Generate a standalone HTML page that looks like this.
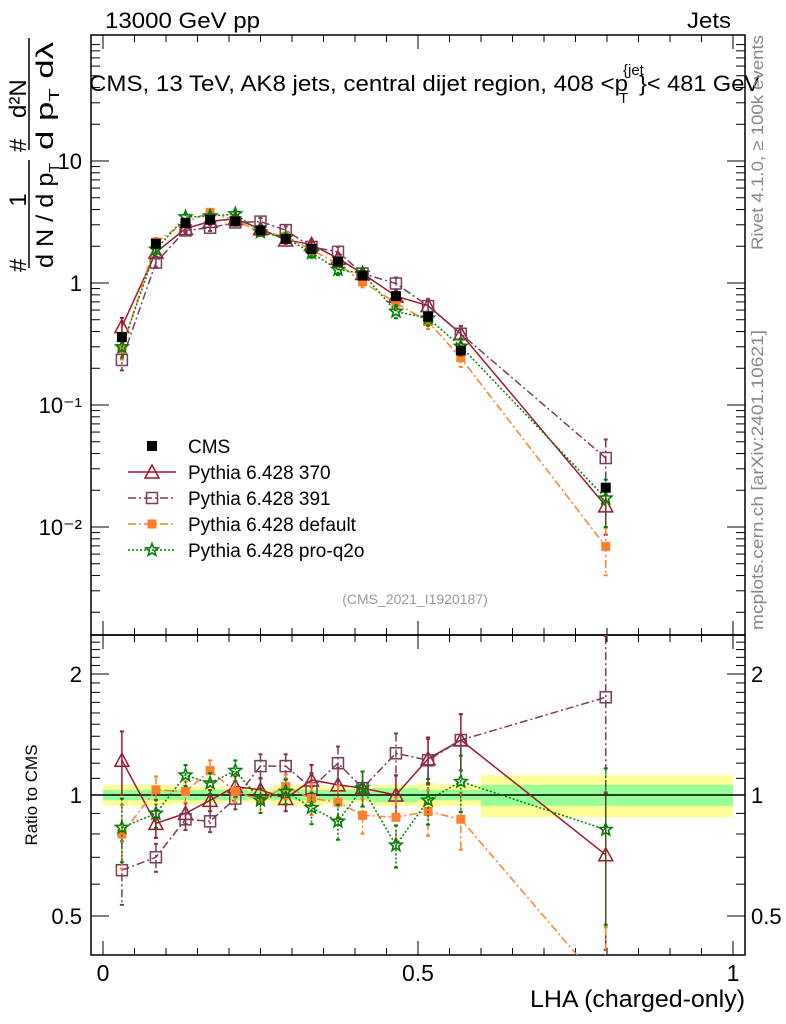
<!DOCTYPE html>
<html><head><meta charset="utf-8"><style>
html,body{margin:0;background:#fff;overflow:hidden;width:786px;height:1024px}
svg{display:block;font-family:"Liberation Sans",sans-serif}
</style></head><body>
<svg id="chart" width="786" height="1024" viewBox="0 0 786 1024" xmlns="http://www.w3.org/2000/svg">
<rect width="786" height="1024" fill="#fff"/>
<g id="bands"></g>
<g id="axes"></g>
<g id="series"></g>
<text x="105" y="28" font-size="22" textLength="155" lengthAdjust="spacingAndGlyphs">13000 GeV pp</text>
<text x="687" y="28" font-size="22" textLength="44" lengthAdjust="spacingAndGlyphs">Jets</text>
<g font-size="22">
<text x="89" y="91" textLength="539" lengthAdjust="spacingAndGlyphs">CMS, 13 TeV, AK8 jets, central dijet region, 408 &lt;p</text>
<text x="623" y="75" font-size="15">{jet</text>
<text x="619" y="103" font-size="15">T</text>
<text x="639" y="91" textLength="121" lengthAdjust="spacingAndGlyphs">}&lt; 481 GeV</text>
</g>
<text x="415" y="604" font-size="14" fill="#999" text-anchor="middle">(CMS_2021_I1920187)</text>
<text transform="translate(763,250) rotate(-90)" font-size="17" fill="#888" textLength="215" lengthAdjust="spacingAndGlyphs">Rivet 4.1.0, ≥ 100k events</text>
<text transform="translate(763,630) rotate(-90)" font-size="17" fill="#888" textLength="300" lengthAdjust="spacingAndGlyphs">mcplots.cern.ch [arXiv:2401.10621]</text>
<g font-size="24">
<text transform="translate(26,272) rotate(-90)">#</text>
<text transform="translate(26,200) rotate(-90)" text-anchor="middle">1</text>
<line x1="29" y1="160" x2="29" y2="268" stroke="#000" stroke-width="1.5"/>
<text transform="translate(53,268) rotate(-90)" textLength="105" lengthAdjust="spacingAndGlyphs">d N / d p<tspan font-size="15" dy="6">T</tspan></text>
<text transform="translate(26,152) rotate(-90)">#</text>
<text transform="translate(26,118) rotate(-90)">d²N</text>
<line x1="29" y1="38" x2="29" y2="150" stroke="#000" stroke-width="1.5"/>
<text transform="translate(53,150) rotate(-90)" textLength="108" lengthAdjust="spacingAndGlyphs">d p<tspan font-size="15" dy="6">T</tspan><tspan dy="-6"> dλ</tspan></text>
</g>
<text transform="translate(37,795) rotate(-90)" font-size="17" text-anchor="middle">Ratio to CMS</text>
<text x="530" y="1007" font-size="24" textLength="215" lengthAdjust="spacingAndGlyphs">LHA (charged-only)</text>
<g id="legend"></g>
</svg>
<script>
const xCenters=[0.030,0.084,0.131,0.170,0.210,0.250,0.290,0.331,0.373,0.412,0.465,0.516,0.568,0.798];
const xEdges=[0,0.06,0.11,0.15,0.19,0.23,0.27,0.31,0.35,0.39,0.43,0.50,0.53,0.60,1.0];
const cmsValues=[0.36,2.1,3.1,3.3,3.2,2.7,2.3,1.9,1.5,1.15,0.78,0.53,0.28,0.021];
const bandInner=[0.03,0.03,0.03,0.03,0.03,0.02,0.03,0.03,0.03,0.03,0.04,0.03,0.03,0.06];
const bandOuter=[0.06,0.06,0.05,0.05,0.04,0.04,0.06,0.06,0.05,0.04,0.06,0.07,0.06,0.12];
const ratio370=[1.22,0.85,0.90,0.97,1.05,1.03,0.98,1.09,1.06,1.04,1.00,1.23,1.37,0.71];
const ratio391=[0.65,0.70,0.87,0.86,0.98,1.18,1.18,1.04,1.20,1.04,1.27,1.22,1.37,1.75];
const ratioDefault=[0.80,1.03,1.02,1.15,1.02,0.97,1.05,0.98,0.96,0.89,0.88,0.91,0.87,0.33];
const ratioProq2o=[0.83,0.90,1.12,1.07,1.15,0.97,1.02,0.93,0.86,1.04,0.75,0.97,1.08,0.82];
const relErr=[0.18,0.08,0.06,0.06,0.06,0.07,0.07,0.09,0.10,0.10,0.12,0.13,0.16,0.42];
const xTicks=[0,0.5,1];
const xTickLabels=["0","0.5","1"];
const mainTicks=[0.01,0.1,1,10];
const mainTickLabels=["10⁻²","10⁻¹","1","10"];
const ratioTicks=[0.5,1,2];
const ratioTickLabels=["0.5","1","2"];

const NS="http://www.w3.org/2000/svg";
const L=91,R=745,T1=35,B1=635,B2=955;
const X=v=>103+630*v;
const YM=v=>283-122*Math.log10(v);
const YR=v=>795-402*Math.log10(v);
function mk(tag,attrs,parent){const e=document.createElementNS(NS,tag);for(const k in attrs)e.setAttribute(k,attrs[k]);parent.appendChild(e);return e;}
const axes=document.getElementById('axes'),bands=document.getElementById('bands'),ser=document.getElementById('series'),leg=document.getElementById('legend');

for(let i=0;i<xCenters.length;i++){
  const x0=X(xEdges[i]),x1=X(xEdges[i+1]);
  let r=mk('rect',{x:x0,y:YR(1+bandOuter[i]),width:x1-x0,height:YR(1-bandOuter[i])-YR(1+bandOuter[i]),fill:'#ffff99'},bands);
  
  
  r=mk('rect',{x:x0,y:YR(1+bandInner[i]),width:x1-x0,height:YR(1-bandInner[i])-YR(1+bandInner[i]),fill:'#99ff99'},bands);
  
  
}
mk('line',{x1:L,x2:R,y1:YR(1),y2:YR(1),stroke:'#000','stroke-width':1.5},bands);

mk('rect',{x:L,y:T1,width:R-L,height:B1-T1,fill:'none',stroke:'#000','stroke-width':1.5},axes);
mk('rect',{x:L,y:B1,width:R-L,height:B2-B1,fill:'none',stroke:'#000','stroke-width':1.5},axes);
for(let v=0;v<=1.0001;v+=0.05){
  const big=Math.abs(v*2-Math.round(v*2))<1e-6, len=big?14:7;
  [[T1,1],[B1,1],[B1,-1],[B2,-1]].forEach(([y,d])=>mk('line',{x1:X(v),x2:X(v),y1:y,y2:y+d*len,stroke:'#000'},axes));
}
xTicks.forEach((v,i)=>{const t=mk('text',{x:X(v),y:981,'font-size':23,'text-anchor':'middle'},axes);t.textContent=xTickLabels[i];
  
  });
for(let d=-3;d<=1;d++){for(let m=1;m<10;m++){const v=m*Math.pow(10,d),y=YM(v);if(y<T1||y>B1)continue;const len=m==1?18:9;
  mk('line',{x1:L,x2:L+len,y1:y,y2:y,stroke:'#000'},axes);mk('line',{x1:R,x2:R-len,y1:y,y2:y,stroke:'#000'},axes);}}
mainTicks.forEach((v,i)=>{const t=mk('text',{x:82,y:YM(v)+8,'font-size':22,'text-anchor':'end'},axes);t.textContent=mainTickLabels[i];
  
  });
for(let v=0.4;v<=2.5;v+=0.1){const y=YR(v);if(y<B1||y>B2)continue;const big=[0.5,1,2].some(q=>Math.abs(q-v)<1e-6);const len=big?18:9;
  mk('line',{x1:L,x2:L+len,y1:y,y2:y,stroke:'#000'},axes);mk('line',{x1:R,x2:R-len,y1:y,y2:y,stroke:'#000'},axes);}
ratioTicks.forEach((v,i)=>{[[82,'end'],[751,'start']].forEach(([x,a])=>{const t=mk('text',{x:x,y:YR(v)+8,'font-size':22,'text-anchor':a},axes);t.textContent=ratioTickLabels[i];
  
  });});

function marker(g,type,x,y,color){
  if(type=='sqf')mk('rect',{x:x-5,y:y-5,width:10,height:10,fill:color},g);
  else if(type=='sqo')mk('rect',{x:x-5.5,y:y-5.5,width:11,height:11,fill:'none',stroke:color,'stroke-width':1.5},g);
  else if(type=='sqs')mk('rect',{x:x-4.5,y:y-4.5,width:9,height:9,fill:color},g);
  else if(type=='tri')mk('polygon',{points:`${x},${y-7} ${x-7},${y+6} ${x+7},${y+6}`,fill:'none',stroke:color,'stroke-width':1.5},g);
  else if(type=='star'){let p=[];for(let k=0;k<10;k++){const r=k%2?2.8:6.5,a=-Math.PI/2+k*Math.PI/5;p.push((x+r*Math.cos(a)).toFixed(1)+','+(y+r*Math.sin(a)).toFixed(1));}
    mk('polygon',{points:p.join(' '),fill:'none',stroke:color,'stroke-width':1.6},g);}
}
const seriesDefs=[
  {name:'Pythia 6.428 370',r:ratio370,color:'#a0182e',dash:'',m:'tri'},
  {name:'Pythia 6.428 391',r:ratio391,color:'#7b3b5a',dash:'8,3,2,3',m:'sqo'},
  {name:'Pythia 6.428 default',r:ratioDefault,color:'#ff7f2a',dash:'8,3,2,3',m:'sqs'},
  {name:'Pythia 6.428 pro-q2o',r:ratioProq2o,color:'#008000',dash:'2,2',m:'star'}
];
seriesDefs.forEach((s,si)=>{
  const g=mk('g',{},ser);
  
  
  const mainPts=[],ratPts=[];
  for(let i=0;i<xCenters.length;i++){
    const v=cmsValues[i]*s.r[i];mainPts.push([X(xCenters[i]),YM(v)]);ratPts.push([X(xCenters[i]),YR(s.r[i])]);
  }
  [[mainPts,T1,B1,YM,i=>cmsValues[i]*s.r[i]],[ratPts,B1,B2,YR,i=>s.r[i]]].forEach(([pts,lo,hi,Y,val])=>{
    const cp=mk('clipPath',{id:'c'+si+lo},g);mk('rect',{x:L,y:lo,width:R-L,height:hi-lo},cp);
    const gg=mk('g',{'clip-path':`url(#c${si}${lo})`},g);
    mk('polyline',{points:pts.map(p=>p.join(',')).join(' '),fill:'none',stroke:s.color,'stroke-width':1.5,'stroke-dasharray':s.dash},gg);
    pts.forEach((p,i)=>{const v=val(i),e=relErr[i];
      const y1=Y(v*(1+e)),y2=Y(Math.max(v*(1-e),1e-4));
      mk('line',{x1:p[0],x2:p[0],y1:y1,y2:y2,stroke:s.color,'stroke-width':1.5,'stroke-dasharray':s.dash},gg);
      mk('line',{x1:p[0]-2,x2:p[0]+2,y1:y1,y2:y1,stroke:s.color,'stroke-width':2},gg);
      mk('line',{x1:p[0]-2,x2:p[0]+2,y1:y2,y2:y2,stroke:s.color,'stroke-width':2},gg);
      if(p[1]>=lo&&p[1]<=hi){const mg=mk('g',{},gg);marker(mg,s.m,p[0],p[1],s.color);
        
        }
    });
  });
});
const cg=mk('g',{},ser);


cmsValues.forEach((v,i)=>{marker(cg,'sqf',X(xCenters[i]),YM(v),'#000');});

const items=[{name:'CMS',m:'sqf',color:'#000',line:false},...seriesDefs.map(s=>({name:s.name,m:s.m,color:s.color,dash:s.dash,line:true}))];
items.forEach((it,i)=>{const y=446+i*26;const g=mk('g',{},leg);
  
  
  if(it.line)mk('line',{x1:128,x2:176,y1:y,y2:y,stroke:it.color,'stroke-width':1.5,'stroke-dasharray':it.dash},g);
  marker(g,it.m,152,y,it.color);
  const t=mk('text',{x:188,y:y+7,'font-size':19},g);t.textContent=it.name;});
</script>
</body></html>
